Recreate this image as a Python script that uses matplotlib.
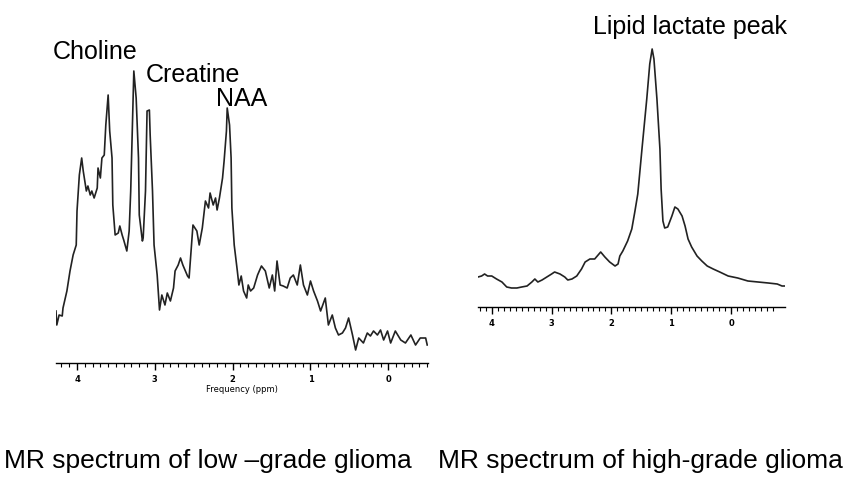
import numpy as np
import matplotlib
matplotlib.use("Agg")
from matplotlib import pyplot as plt
from matplotlib.ticker import FixedLocator

# low-grade glioma spectrum (ppm, arbitrary intensity)
low_ppm = [4.27, 4.26, 4.23, 4.19, 4.18, 4.13, 4.09, 4.05, 4.01, 4.00, 3.97, 3.94,
           3.92, 3.88, 3.86, 3.83, 3.81, 3.78, 3.74, 3.73, 3.70, 3.68, 3.65, 3.63,
           3.60, 3.58, 3.55, 3.54, 3.51, 3.47, 3.45, 3.42, 3.40, 3.36, 3.33, 3.31,
           3.28, 3.27, 3.24, 3.21, 3.20, 3.16, 3.15, 3.12, 3.10, 3.07, 3.06, 3.03,
           3.01, 2.97, 2.94, 2.91, 2.87, 2.84, 2.80, 2.76, 2.74, 2.70, 2.67, 2.64,
           2.58, 2.56, 2.51, 2.46, 2.43, 2.39, 2.35, 2.31, 2.29, 2.25, 2.22, 2.20,
           2.17, 2.13, 2.11, 2.08, 2.07, 2.04, 2.02, 2.01, 1.98, 1.94, 1.92, 1.89,
           1.86, 1.82, 1.80, 1.77, 1.73, 1.68, 1.63, 1.58, 1.53, 1.49, 1.46, 1.43,
           1.39, 1.35, 1.30, 1.26, 1.22, 1.17, 1.13, 1.09, 1.04, 1.00, 0.96, 0.91,
           0.87, 0.81, 0.77, 0.72, 0.68, 0.64, 0.59, 0.55, 0.51, 0.46, 0.42, 0.38,
           0.32, 0.27, 0.23, 0.19, 0.14, 0.10, 0.06, 0.01, -0.03, -0.09, -0.16, -0.22,
           -0.29, -0.35, -0.41, -0.48, -0.50]
low_int = [52, 38, 48, 47, 55, 72, 92, 108, 118, 152, 188, 205,
           192, 172, 177, 168, 172, 165, 175, 195, 185, 205, 208, 238,
           268, 232, 205, 158, 128, 130, 137, 128, 123, 112, 132, 172,
           265, 292, 265, 205, 148, 122, 125, 172, 252, 253, 228, 172,
           118, 88, 53, 68, 58, 70, 62, 75, 92, 98, 105, 98,
           87, 85, 138, 132, 118, 135, 162, 155, 170, 158, 165, 153,
           165, 185, 202, 232, 255, 238, 205, 155, 118, 92, 78, 87,
           72, 65, 78, 72, 75, 88, 97, 92, 75, 88, 72, 102,
           78, 77, 75, 85, 88, 78, 98, 78, 68, 82, 72, 62,
           52, 65, 38, 48, 35, 28, 30, 35, 45, 28, 13, 25,
           20, 30, 27, 32, 28, 33, 23, 32, 20, 32, 23, 20,
           28, 18, 25, 25, 18]

# high-grade glioma spectrum
high_ppm = [4.23, 4.17, 4.12, 4.07, 4.00, 3.92, 3.83, 3.75, 3.67, 3.58, 3.50, 3.41,
            3.33, 3.28, 3.23, 3.16, 3.08, 3.00, 2.95, 2.86, 2.78, 2.73, 2.66, 2.58,
            2.50, 2.44, 2.36, 2.28, 2.18, 2.11, 2.03, 1.94, 1.89, 1.86, 1.81, 1.73,
            1.66, 1.61, 1.56, 1.49, 1.41, 1.36, 1.32, 1.29, 1.24, 1.19, 1.17, 1.14,
            1.11, 1.06, 0.99, 0.94, 0.89, 0.82, 0.77, 0.72, 0.66, 0.57, 0.49, 0.40,
            0.30, 0.19, 0.05, -0.11, -0.28, -0.45, -0.62, -0.77, -0.85, -0.90]
high_int = [30, 31, 33, 31, 31, 28, 25, 20, 19, 19, 20, 21,
            25, 28, 25, 27, 30, 33, 35, 33, 30, 27, 28, 31,
            38, 45, 48, 48, 55, 50, 45, 41, 43, 51, 56, 66,
            78, 95, 113, 158, 208, 243, 258, 248, 208, 158, 118, 86,
            79, 80, 91, 100, 98, 91, 81, 68, 60, 51, 46, 41,
            38, 35, 31, 29, 26, 25, 24, 23, 21, 21]

low_labels = ["Choline", "Creatine", "NAA"]
low_label_pos = [(3.77, 312), (2.51, 289), (1.89, 265)]
tick_vals = [4, 3, 2, 1, 0]

plt.rcParams['font.family'] = ['Liberation Sans', 'DejaVu Sans']

fig = plt.figure(figsize=(8.46, 4.81), dpi=100)
ax1 = fig.add_axes([56 / 846, 117 / 481, 372 / 846, 304 / 481])
ax2 = fig.add_axes([478 / 846, 173 / 481, 307 / 846, 298 / 481])


def style(ax, xmin, xmax, ymax, minor_end):
    ax.set_xlim(xmin, xmax)
    ax.set_ylim(0, ymax)
    for s in ['top', 'right', 'left']:
        ax.spines[s].set_visible(False)
    ax.spines['bottom'].set_linewidth(1.0)
    ax.set_yticks([])
    ax.xaxis.set_major_locator(FixedLocator(tick_vals))
    ax.xaxis.set_minor_locator(FixedLocator(np.round(np.arange(4.2, minor_end - 0.01, -0.1), 2)))
    ax.tick_params(axis='x', which='major', length=5, width=1.0, pad=3,
                   labelsize=6)
    ax.tick_params(axis='x', which='minor', length=3, width=0.8)
    for t in ax.get_xticklabels():
        t.set_fontweight('bold')
        t.set_family('DejaVu Sans')
    ax.patch.set_visible(False)


ax1.plot(low_ppm, low_int, color='#222222', lw=1.2)
style(ax1, 4.27, -0.51, 304, -0.5)
ax1.set_xlabel("Frequency (ppm)", fontsize=6, family='DejaVu Sans', labelpad=1)
for lab, (x, y) in zip(low_labels, low_label_pos):
    ax1.text(x, y, lab, fontsize=18, ha='center', va='center')

ax2.plot(high_ppm, high_int, color='#222222', lw=1.2)
style(ax2, 4.23, -0.90, 298, -0.7)
ax2.text(0.69, 281, "Lipid lactate peak", fontsize=18, ha='center', va='center')

fig.text(4 / 846, 1 - 461 / 481, "MR spectrum of low \u2013grade glioma", fontsize=19,
         ha='left', va='center')
fig.text(438 / 846, 1 - 461 / 481, "MR spectrum of high-grade glioma", fontsize=19,
         ha='left', va='center')

fig.savefig("out.png", dpi=100)
